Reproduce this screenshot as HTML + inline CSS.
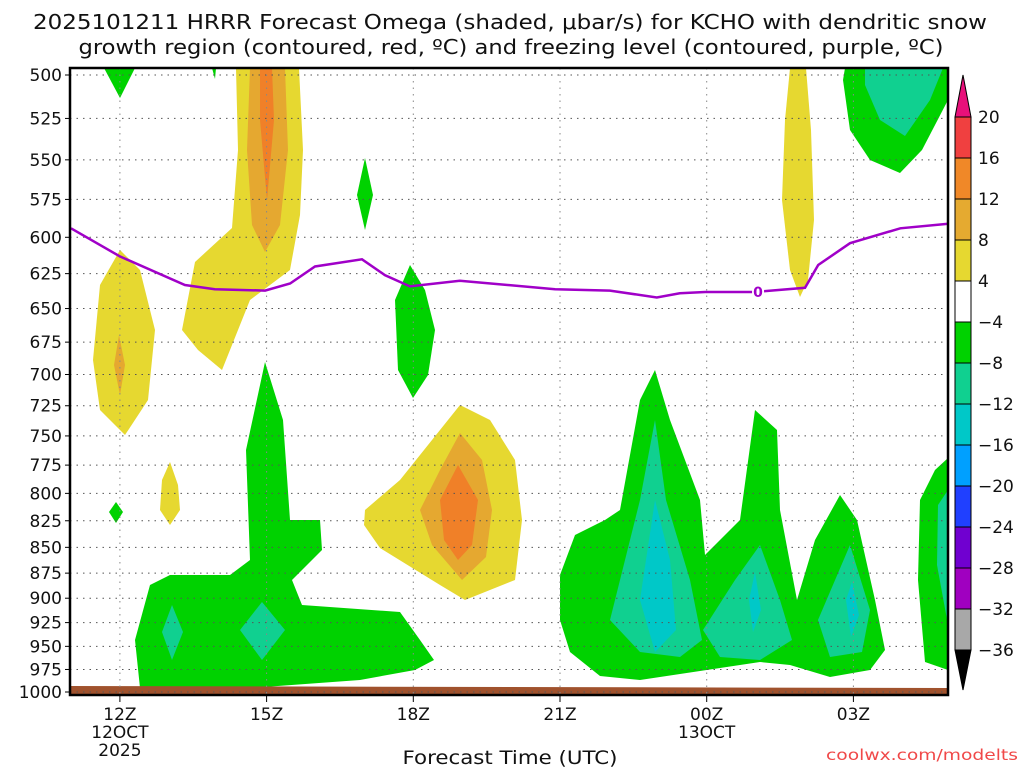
<!DOCTYPE html>
<html><head><meta charset="utf-8"><style>
body{margin:0;background:#fff;width:1024px;height:768px;overflow:hidden}
svg{display:block}
text{font-family:"DejaVu Sans","Liberation Sans",sans-serif;fill:#111}
</style></head><body>
<svg id="chart" width="1024" height="768" viewBox="0 0 1024 768">
<text x="510" y="29" font-size="20" text-anchor="middle" textLength="954" lengthAdjust="spacingAndGlyphs">2025101211 HRRR Forecast Omega (shaded, μbar/s) for KCHO with dendritic snow</text>
<text x="511" y="54" font-size="20" text-anchor="middle" textLength="865" lengthAdjust="spacingAndGlyphs">growth region (contoured, red, ºC) and freezing level (contoured, purple, ºC)</text>
<g>
<path fill="#00d200" d="M104,68 L135,68 L120,98 Z"/>
<path fill="#00d200" d="M212,68 L216,68 L215,79 Z"/>
<path fill="#e6d830" d="M236,68 L299,68 L303,150 L300,215 L290,270 L250,300 L222,370 L198,350 L182,330 L195,262 L232,228 L238,150 Z"/>
<path fill="#e5a830" d="M250,68 L285,68 L288,150 L280,225 L265,252 L252,225 L247,150 Z"/>
<path fill="#f08028" d="M260,68 L272,68 L274,120 L267,200 L260,120 Z"/>
<path fill="#e6d830" d="M120,250 L140,270 L155,330 L148,400 L125,435 L100,410 L93,360 L100,285 Z"/>
<path fill="#e5a830" d="M119,335 L125,365 L120,395 L114,365 Z"/>
<path fill="#00d200" d="M365,158 L373,195 L365,230 L357,195 Z"/>
<path fill="#00d200" d="M410,265 L425,290 L435,330 L428,375 L413,398 L398,370 L395,300 Z"/>
<path fill="#e6d830" d="M170,462 L178,485 L180,510 L170,525 L160,510 L162,480 Z"/>
<path fill="#00d200" d="M116,502 L123,512 L116,523 L109,512 Z"/>
<path fill="#00d200" d="M140,688 L135,640 L150,585 L170,575 L230,575 L250,560 L246,450 L265,362 L283,420 L290,520 L320,520 L322,550 L292,580 L302,605 L400,612 L420,640 L434,660 L415,670 L360,680 L250,688 Z"/>
<path fill="#10d090" d="M172,605 L183,632 L172,660 L162,632 Z"/>
<path fill="#10d090" d="M262,602 L285,630 L262,660 L240,630 Z"/>
<path fill="#e6d830" d="M365,510 L400,480 L440,430 L460,405 L490,420 L515,460 L522,520 L515,580 L465,600 L440,585 L380,548 L364,525 Z"/>
<path fill="#e5a830" d="M420,510 L440,470 L460,433 L482,460 L492,510 L486,557 L462,580 L432,545 Z"/>
<path fill="#f08028" d="M440,500 L458,465 L478,500 L472,545 L458,560 L444,540 Z"/>
<path fill="#00d200" d="M560,575 L575,535 L605,520 L620,510 L640,400 L655,370 L670,420 L700,500 L705,555 L740,520 L755,410 L777,430 L780,510 L797,600 L815,540 L840,495 L857,520 L875,600 L885,650 L870,670 L830,677 L790,665 L760,662 L720,668 L640,680 L600,676 L570,652 L560,620 Z"/>
<path fill="#10d090" d="M610,620 L640,500 L655,420 L666,500 L690,580 L702,640 L680,657 L640,652 Z"/>
<path fill="#10d090" d="M703,630 L735,580 L760,545 L780,600 L792,640 L760,660 L720,657 Z"/>
<path fill="#10d090" d="M818,620 L850,545 L870,610 L862,652 L830,657 Z"/>
<path fill="#00c8c8" d="M640,600 L655,500 L670,560 L676,630 L655,652 Z"/>
<path fill="#00c8c8" d="M749,600 L755,572 L761,610 L753,632 Z"/>
<path fill="#00c8c8" d="M846,600 L852,582 L859,615 L851,637 Z"/>
<path fill="#00d200" d="M845,68 L948,68 L948,100 L922,150 L900,173 L870,160 L850,130 L843,80 Z"/>
<path fill="#10d090" d="M865,68 L943,68 L930,100 L905,136 L880,120 L865,85 Z"/>
<path fill="#e6d830" d="M790,68 L806,68 L811,130 L814,220 L808,280 L800,297 L790,270 L782,200 L785,120 Z"/>
<path fill="#00d200" d="M920,500 L935,470 L948,458 L948,670 L925,662 L918,580 Z"/>
<path fill="#10d090" d="M938,505 L948,490 L948,625 L937,565 Z"/>
<path fill="#a0522d" d="M70,686 L948,688 L948,695 L70,695 Z"/>
</g>
<g id="grid"></g>
<path id="frz" fill="none" stroke="#a000c8" stroke-width="2.5"/>
<rect id="frzbg" fill="#fff" width="12" height="14"/>
<text id="frzlabel" font-size="14" font-weight="bold" style="fill:#a000c8" text-anchor="middle">0</text>
<rect x="70" y="68" width="878" height="627" fill="none" stroke="#000" stroke-width="2.5"/>
<g id="axes"></g>
<g id="cbar"></g>
<text x="510" y="764" font-size="19" text-anchor="middle" textLength="215" lengthAdjust="spacingAndGlyphs">Forecast Time (UTC)</text>
<text x="1018" y="760" font-size="15" text-anchor="end" textLength="192" lengthAdjust="spacingAndGlyphs" style="fill:#f04848">coolwx.com/modelts</text>
</svg>
<script>
const pLevels=[500,525,550,575,600,625,650,675,700,725,750,775,800,825,850,875,900,925,950,975,1000];
const xTickHours=[12,15,18,21,24,27];
const xTickLabels=["12Z","15Z","18Z","21Z","00Z","03Z"];
const frzHours=[11,12,13.33,13.94,14.97,15.48,15.99,16.95,17.42,17.93,18.95,20.9,22.02,22.98,23.45,23.97,24.99,26.01,26.28,26.93,27.96,28.94];
const frzP=[594,613,633,636,637,632,620,615,626,634,630,636,637,642,639,638,638,635,619,604,594,591];
const cbLevels=[20,16,12,8,4,-4,-8,-12,-16,-20,-24,-28,-32,-36];
const cbColors=["#f04040","#f08828","#e5aa30","#e6d830","#ffffff","#00d200","#10d090","#00c8c8","#00a0ff","#2040ff","#7000d0","#a000c0","#a8a8a8"];
const NS="http://www.w3.org/2000/svg";
const X=h=>71+(h-11)*48.9;
const Y=p=>75+Math.log(p/500)/Math.log(2)*617;
function mk(tag,attrs,parent,txt){const e=document.createElementNS(NS,tag);for(const k in attrs)e.setAttribute(k,attrs[k]);if(txt!==undefined)e.textContent=txt;parent.appendChild(e);return e;}
const grid=document.getElementById('grid'),axes=document.getElementById('axes'),cb=document.getElementById('cbar');
pLevels.forEach(p=>{const y=Y(p);
 const l=mk('line',{x1:70,x2:948,y1:y,y2:y,stroke:'#555','stroke-dasharray':'1.5 5'},grid);
 
 
 const t=mk('text',{x:62,y:y+6,'font-size':17,'text-anchor':'end'},axes,String(p));
 
 
 mk('line',{x1:65,x2:70,y1:y,y2:y,stroke:'#000'},axes);});
xTickHours.forEach((h,i)=>{const x=X(h);
 const l=mk('line',{x1:x,x2:x,y1:68,y2:695,stroke:'#888','stroke-dasharray':'1.5 5'},grid);
 
 
 mk('line',{x1:x,x2:x,y1:695,y2:702,stroke:'#000'},axes);
 const t=mk('text',{x:x,y:720,'font-size':17,'text-anchor':'middle'},axes,xTickLabels[i]);
 
 });
[["12OCT",X(12),738],["2025",X(12),756],["13OCT",X(24),738]].forEach(a=>{
 const t=mk('text',{x:a[1],y:a[2],'font-size':17,'text-anchor':'middle'},axes,a[0]);
 
 });
document.getElementById('frz').setAttribute('d',frzHours.map((h,i)=>(i?'L':'M')+X(h).toFixed(1)+','+Y(frzP[i]).toFixed(1)).join(' '));
const fl=document.getElementById('frzlabel');fl.setAttribute('x',X(25.05));fl.setAttribute('y',Y(638)+5);
const fb=document.getElementById('frzbg');fb.setAttribute('x',X(25.05)-6);fb.setAttribute('y',Y(638)-7);
const cx=955,cw=16,cy0=117,step=41;
const tt=mk('path',{d:`M${cx},${cy0} L${cx+cw/2},75 L${cx+cw},${cy0} Z`,fill:'#e8107a',stroke:'#000'},cb);


cbColors.forEach((c,i)=>{const r=mk('rect',{x:cx,y:cy0+i*step,width:cw,height:step,fill:c,stroke:'#000'},cb);
 
 });
const yb=cy0+cbColors.length*step;
const bt=mk('path',{d:`M${cx},${yb} L${cx+cw/2},690 L${cx+cw},${yb} Z`,fill:'#000',stroke:'#000'},cb);


cbLevels.forEach((v,i)=>{const t=mk('text',{x:978,y:cy0+i*step+6,'font-size':17},cb,v<0?'\u2212'+(-v):String(v));
 
 });
</script>
</body></html>
